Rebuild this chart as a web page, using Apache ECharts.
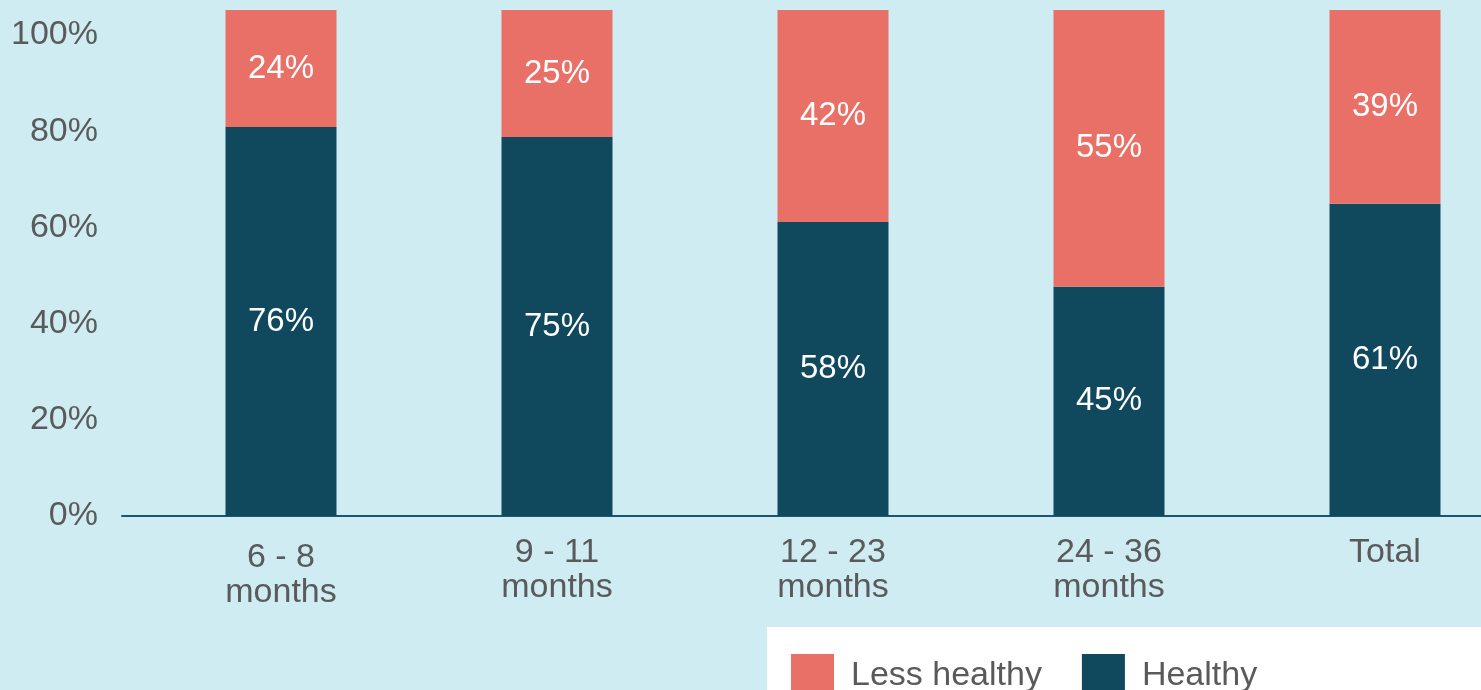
<!DOCTYPE html>
<html>
<head>
<meta charset="utf-8">
<script src="https://cdn.jsdelivr.net/npm/echarts@6/dist/echarts.min.js"></script>
<style>
html,body{margin:0;padding:0;background:#ceecf1;}
#chart{width:1481px;height:690px;}
</style>
</head>
<body>
<div id="chart"></div>
<script>
const categories = ['6 - 8\nmonths', '9 - 11\nmonths', '12 - 23\nmonths', '24 - 36\nmonths', 'Total'];
// bar heights as drawn in the picture (percent of full bar)
const healthy = [76.9, 74.9, 58.1, 45.3, 61.7];
const lessHealthy = [23.1, 25.1, 41.9, 54.7, 38.3];
// value labels as printed on the bars
const healthyLabels = [76, 75, 58, 45, 61];
const lessHealthyLabels = [24, 25, 42, 55, 39];
const yTickLabels = [0, 20, 40, 60, 80, 100];

const FONT = '"Liberation Sans", Arial, Helvetica, sans-serif';
const GRAY = '#5a5a5c';
const RED = '#e97067';
const DARK = '#10485e';

const chart = echarts.init(document.getElementById('chart'));
const option = {
  backgroundColor: '#ceecf1',
  animation: false,
  textStyle: { fontFamily: FONT },
  grid: [
    { left: 143, width: 1380, top: 10, bottom: 174, outerBoundsMode: 'none', containLabel: false },
    { left: 122, right: 0, top: 10, bottom: 174, outerBoundsMode: 'none', containLabel: false }
  ],
  legend: {
    data: ['Less healthy', 'Healthy'],
    left: 767, top: 627, width: 1000,
    backgroundColor: '#ffffff',
    padding: [27, 240, 30, 24],
    itemWidth: 43, itemHeight: 43,
    itemGap: 40,
    icon: 'rect',
    textStyle: { fontSize: 34, color: GRAY, fontFamily: FONT, padding: [0, 0, 0, 12] }
  },
  xAxis: [
    {
      type: 'category', gridIndex: 0,
      data: categories.map((c, i) => i === 0 ? { value: c, textStyle: { padding: [5, 0, 0, 0] } } : c),
      axisLine: { show: false }, axisTick: { show: false }, splitLine: { show: false },
      axisLabel: { fontSize: 34, color: GRAY, fontFamily: FONT, lineHeight: 35, margin: 19, interval: 0 }
    },
    {
      type: 'value', gridIndex: 1, min: 0, max: 1,
      axisLine: { show: true, lineStyle: { color: '#1a5670', width: 2 } },
      axisTick: { show: false }, axisLabel: { show: false }, splitLine: { show: false }
    }
  ],
  yAxis: [
    {
      type: 'value', gridIndex: 0, min: 0, max: 100, show: false, splitLine: { show: false }
    },
    {
      type: 'value', gridIndex: 1, min: 0, max: 105.2, interval: 20,
      axisLine: { show: false }, axisTick: { show: false }, splitLine: { show: false },
      axisLabel: {
        fontSize: 34, color: GRAY, fontFamily: FONT, margin: 24,
        padding: [0, 0, 9, 0],
        formatter: v => yTickLabels.indexOf(Math.round(v)) >= 0 && Math.abs(v - Math.round(v)) < 1e-6 ? v + '%' : ''
      }
    }
  ],
  series: [
    {
      name: 'Healthy', type: 'bar', stack: 's', xAxisIndex: 0, yAxisIndex: 0,
      data: healthy, barWidth: 111,
      itemStyle: { color: DARK },
      label: { show: true, position: 'inside', formatter: p => healthyLabels[p.dataIndex] + '%', color: '#ffffff', fontSize: 33, fontFamily: FONT }
    },
    {
      name: 'Less healthy', type: 'bar', stack: 's', xAxisIndex: 0, yAxisIndex: 0,
      data: lessHealthy, barWidth: 111,
      itemStyle: { color: RED },
      label: { show: true, position: 'inside', formatter: p => lessHealthyLabels[p.dataIndex] + '%', color: '#ffffff', fontSize: 33, fontFamily: FONT }
    }
  ]
};
chart.setOption(option);
</script>
</body>
</html>
